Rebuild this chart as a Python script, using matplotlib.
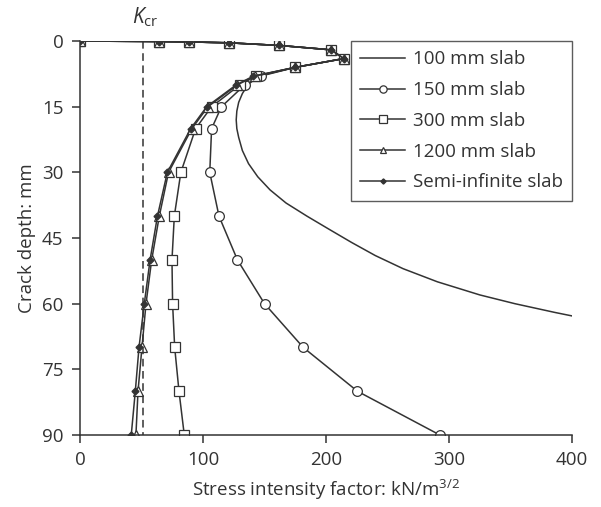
import matplotlib
matplotlib.use("Agg")
import matplotlib.pyplot as plt

plt.rcParams['font.family'] = ['Open Sans', 'DejaVu Sans']
plt.rcParams['mathtext.fontset'] = 'custom'
plt.rcParams['mathtext.rm'] = 'Open Sans'
plt.rcParams['mathtext.it'] = 'Open Sans:italic'

# crack depths (mm) and stress intensity factors (kN/m^3/2)
depth = [0, 0.1, 0.2, 0.4, 1, 2, 4, 6, 8, 10, 15, 20, 30, 40, 50, 60, 70, 80, 90]

k_150 = [0, 64, 89, 121, 162, 204, 214.5, 175, 147, 134, 115, 107, 105.5,
         113, 128, 150, 181.5, 225.5, 292.5]
k_300 = [0, 64, 89, 121, 162, 204, 214.5, 175, 143, 130, 107, 94, 82,
         76.7, 74.8, 75.3, 77, 80.5, 84.8]
k_1200 = [0, 64, 89, 121, 162, 204, 214.5, 175, 142, 128, 104, 91, 72,
          64.5, 58.3, 53.7, 50.4, 47.2, 45.5]
k_semi = [0, 64, 89, 121, 162, 204, 214.5, 175, 141, 127, 103, 90, 71,
          63, 57, 52.3, 48, 45, 41.7]

# 100 mm slab has no markers, so it is traced more densely
depth_100 = [0, 0.1, 0.2, 0.4, 1, 2, 4, 6, 8, 10, 12, 14, 16, 18, 20, 22, 25,
             28, 31, 34, 37, 40, 43, 46, 49, 52, 55, 58, 60, 62, 64]
k_100 = [0, 64, 89, 121, 162, 204, 214.5, 175, 145, 136.5, 132, 129, 127.5,
         127, 127.5, 129, 132, 137, 144.5, 154.5, 167.5, 184.5, 202.5, 220.7,
         240, 262.6, 290.5, 325, 353.5, 386, 421]

k_cr = 51

ink = '#333333'
fs = 13.5

fig = plt.figure(figsize=(6.01, 5.07), dpi=100)
ax = fig.add_axes([0.133, 0.142, 0.819, 0.777])

ax.plot(k_100, depth_100, color=ink, lw=1.1, label='100 mm slab')
ax.plot(k_150, depth, color=ink, lw=1.1, marker='o', ms=7, mfc='white',
        mec=ink, mew=0.9, label='150 mm slab')
ax.plot(k_300, depth, color=ink, lw=1.1, marker='s', ms=7, mfc='white',
        mec=ink, mew=0.9, label='300 mm slab')
ax.plot(k_1200, depth, color=ink, lw=1.1, marker='^', ms=6.5, mfc='white',
        mec=ink, mew=0.9, label='1200 mm slab')
ax.plot(k_semi, depth, color=ink, lw=1.1, marker='D', ms=3.5, mfc=ink,
        mec=ink, label='Semi-infinite slab')

ax.plot([k_cr, k_cr], [0, 90], color=ink, lw=1.1, ls=(0, (5, 3)))
ax.text(k_cr + 2, -2.8, r'$K_{\mathrm{cr}}$', ha='center', va='bottom',
        fontsize=15, color=ink)

ax.set_xlim(0, 400)
ax.set_ylim(90, 0)
ax.set_xticks([0, 100, 200, 300, 400])
ax.set_yticks([0, 15, 30, 45, 60, 75, 90])
for s in ['top', 'right']:
    ax.spines[s].set_visible(False)
for s in ['left', 'bottom']:
    ax.spines[s].set_color(ink)
    ax.spines[s].set_linewidth(1.1)
ax.tick_params(direction='out', length=5.8, width=1.1, color=ink,
               labelsize=fs, labelcolor=ink, pad=6)

ax.set_xlabel(r'Stress intensity factor: kN/m$^{3/2}$', fontsize=fs,
              color=ink, labelpad=6)
ax.set_ylabel('Crack depth: mm', fontsize=fs, color=ink, labelpad=4)

leg = ax.legend(loc='upper right', bbox_to_anchor=(1.0, 1.0),
                borderaxespad=0, fontsize=fs, frameon=True, fancybox=False,
                handlelength=2.4, handletextpad=0.4, labelspacing=0.68,
                borderpad=0.5, markerscale=0.75)
leg.get_frame().set_edgecolor(ink)
leg.get_frame().set_linewidth(1.0)
for t in leg.get_texts():
    t.set_color(ink)

fig.savefig('out.png', dpi=100)
